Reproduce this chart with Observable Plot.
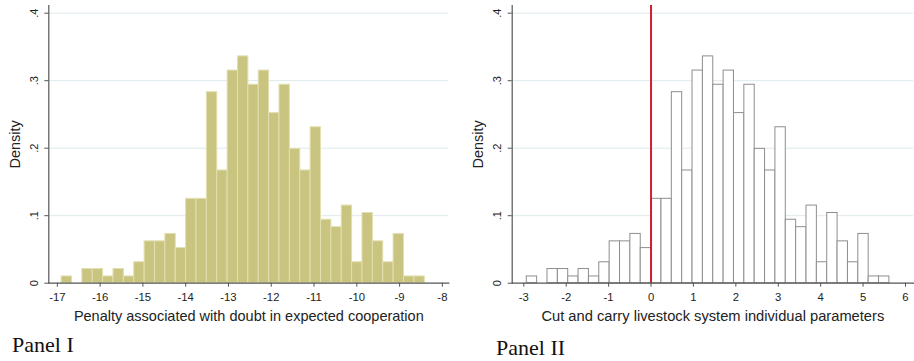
<!DOCTYPE html>
<html>
<head>
<meta charset="utf-8">
<script src="https://cdn.jsdelivr.net/npm/d3@7"></script>
<script src="https://cdn.jsdelivr.net/npm/@observablehq/plot@0.6"></script>
<style>
  html, body { margin: 0; padding: 0; background: #fff; }
  #wrap { position: relative; width: 914px; height: 361px; overflow: hidden; }
  .panel { position: absolute; top: 0; }
  .plabel { position: absolute; font-family: "Liberation Serif", "Times New Roman", serif; font-size: 22px; color: #111; white-space: nowrap; line-height: 1; }
</style>
</head>
<body>
<div id="wrap">
  <div id="left" class="panel" style="left:0px"></div>
  <div id="right" class="panel" style="left:460px"></div>
  <div class="plabel" style="left:12px; top:334px">Panel I</div>
  <div class="plabel" style="left:496px; top:337px">Panel II</div>
</div>
<script>
// Density per bin (35 bins) (same shape in both panels)
const densityLeft = [0.010, 0, 0.021, 0.021, 0.010, 0.021, 0.010, 0.031, 0.062, 0.062, 0.073, 0.052, 0.125, 0.125, 0.283, 0.167, 0.315, 0.336, 0.294, 0.315, 0.252, 0.294, 0.199, 0.167, 0.231, 0.094, 0.083, 0.115, 0.031, 0.104, 0.062, 0.031, 0.073, 0.010, 0.010];
const densityRight = [0.010, 0, 0.021, 0.021, 0.010, 0.021, 0.010, 0.031, 0.062, 0.062, 0.073, 0.052, 0.125, 0.125, 0.283, 0.167, 0.315, 0.336, 0.294, 0.315, 0.252, 0.294, 0.199, 0.167, 0.231, 0.094, 0.083, 0.115, 0.031, 0.104, 0.062, 0.031, 0.073, 0.010, 0.010];
const leftBinStart = -16.9, leftBinWidth = 0.2425;
const rightBinStart = -2.93, rightBinWidth = 0.2443;
const leftTicks = [-17, -16, -15, -14, -13, -12, -11, -10, -9, -8];
const rightTicks = [-3, -2, -1, 0, 1, 2, 3, 4, 5, 6];
const yTicks = [0, 0.1, 0.2, 0.3, 0.4];
const leftTitle = "Penalty associated with doubt in expected cooperation";
const rightTitle = "Cut and carry livestock system individual parameters";
const refLine = [0];

const bins = (dens, start, w) => dens.map((d, i) => ({x1: start + i * w, x2: start + (i + 1) * w, y: d}));
const yFmt = d => d === 0 ? "0" : String(d).replace(/^0\./, ".");

function panel({data, xDomain, width, marginLeft, marginRight, ticks, title, titleSize, fill, stroke, strokeWidth, extra = []}) {
  return Plot.plot({
    width, height: 330,
    marginLeft, marginRight, marginTop: 5, marginBottom: 47.3,
    style: {fontFamily: "'Liberation Sans', Arial, sans-serif", fontSize: "11px", background: "white", color: "#222", overflow: "visible"},
    x: {domain: xDomain},
    y: {domain: [0, 0.4114]},
    marks: [
      Plot.gridY(yTicks.slice(1), {stroke: "#dde9ec", strokeOpacity: 1, strokeWidth: 1}),
      Plot.rectY(data, {x1: "x1", x2: "x2", y: "y", fill, stroke, strokeWidth, inset: 0}),
      ...extra,
      Plot.frame({anchor: "left", stroke: "#555", strokeWidth: 1.2}),
      Plot.frame({anchor: "bottom", stroke: "#555", strokeWidth: 1.2}),
      Plot.axisY({ticks: yTicks, tickFormat: yFmt, tickRotate: -90, tickSize: 4, tickPadding: 7, label: null, fontSize: 11, stroke: "#555"}),
      Plot.axisX({ticks, tickFormat: d => String(d), tickSize: 4, tickPadding: 5.5, label: null, fontSize: 11.3, stroke: "#555"}),
      Plot.text(["Density"], {frameAnchor: "left", textAnchor: "middle", rotate: -90, dx: -29, lineAnchor: "bottom", fontSize: 14.5, fill: "#222"}),
      Plot.text([title], {frameAnchor: "bottom", textAnchor: "middle", dy: 37.5, lineAnchor: "bottom", fontSize: titleSize, fill: "#222"})
    ]
  });
}

document.getElementById("left").append(panel({
  data: bins(densityLeft, leftBinStart, leftBinWidth),
  xDomain: [-17.2, -7.85], width: 460, marginLeft: 48.3, marginRight: 11.7,
  ticks: leftTicks, title: leftTitle, titleSize: 14.5,
  fill: "#c9c47f", stroke: "#e2dfb0", strokeWidth: 1
}));

document.getElementById("right").append(panel({
  data: bins(densityRight, rightBinStart, rightBinWidth),
  xDomain: [-3.2735, 6.189], width: 454, marginLeft: 51.7, marginRight: 1,
  ticks: rightTicks, title: rightTitle, titleSize: 14.7,
  fill: "white", stroke: "#8e8e8e", strokeWidth: 1,
  extra: [Plot.ruleX(refLine, {stroke: "#d0202e", strokeWidth: 2})]
}));
</script>
</body>
</html>
